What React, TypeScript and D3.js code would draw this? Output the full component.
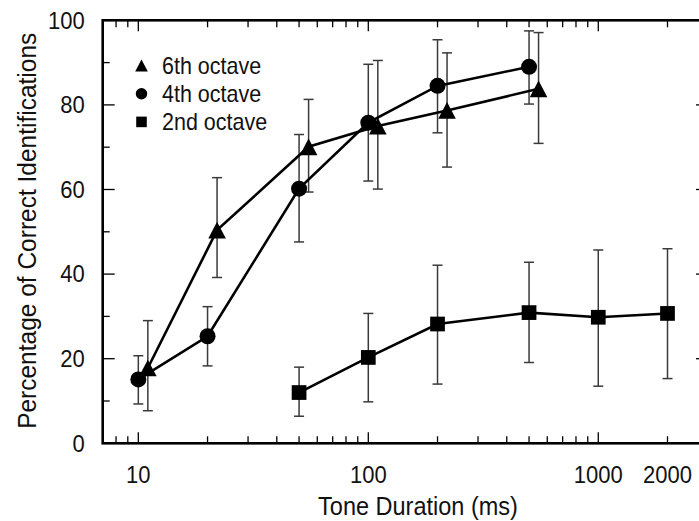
import React from "react";
import * as d3 from "d3";

const durations6 = [11, 22, 55, 110, 220, 550];
const pct6 = [17.8, 50.4, 70.1, 75.0, 78.7, 83.8];
const lo6 = [7.7, 39.2, 59.4, 60.1, 65.3, 70.9];
const hi6 = [29.0, 62.8, 81.3, 90.5, 92.3, 97.1];

const durations4 = [10, 20, 50, 100, 200, 500];
const pct4 = [15.1, 25.3, 60.2, 75.8, 84.5, 89.0];
const lo4 = [9.3, 18.3, 47.6, 62.0, 73.4, 80.2];
const hi4 = [20.7, 32.3, 73.0, 89.6, 95.4, 97.5];

const durations2 = [50, 100, 200, 500, 1000, 2000];
const pct2 = [12.0, 20.3, 28.2, 30.9, 29.8, 30.7];
const lo2 = [6.4, 9.8, 14.0, 19.1, 13.5, 15.3];
const hi2 = [18.0, 30.7, 42.1, 42.8, 45.7, 46.0];

const xTickLabels = [10, 100, 1000, 2000];
const yTickLabels = [0, 20, 40, 60, 80, 100];
const yMinorTicks = [10, 30, 50, 70, 90];
const legendLabels = ["6th octave", "4th octave", "2nd octave"];

const W = 699;
const H = 521;
const left = 102.7;
const right = 708;
const top = 20.3;
const bottom = 443.3;

const x = d3.scaleLog().domain([7, 3000]).range([left, right]);
const y = d3.scaleLinear().domain([0, 100]).range([bottom, top]);

const FONT = "'Liberation Sans', Arial, Helvetica, sans-serif";

function triPath(cx: number, cy: number, s: number) {
  const h = s * 0.95;
  return `M${cx},${cy - h / 2}L${cx + s / 2},${cy + h / 2}L${cx - s / 2},${cy + h / 2}Z`;
}

type Series = { xs: number[]; ys: number[]; lo: number[]; hi: number[]; shape: string };

const series: Series[] = [
  { xs: durations6, ys: pct6, lo: lo6, hi: hi6, shape: "tri" },
  { xs: durations4, ys: pct4, lo: lo4, hi: hi4, shape: "circ" },
  { xs: durations2, ys: pct2, lo: lo2, hi: hi2, shape: "sq" },
];

function marker(shape: string, cx: number, cy: number, size: number, key: string) {
  if (shape === "tri") return <path key={key} d={triPath(cx, cy, size * 1.1)} fill="#000" />;
  if (shape === "circ") return <circle key={key} cx={cx} cy={cy} r={size / 2} fill="#000" />;
  return <rect key={key} x={cx - size * 0.46} y={cy - size * 0.46} width={size * 0.92} height={size * 0.92} fill="#000" />;
}

function SText(props: { x: number; y: number; size: number; anchor?: string; children: React.ReactNode }) {
  // text slightly taller than wide, as in the reference
  const sy = 1.07;
  return (
    <text
      transform={`translate(${props.x},${props.y}) scale(1,${sy})`}
      fontSize={props.size}
      textAnchor={props.anchor || "start"}
      fill="#111"
    >
      {props.children}
    </text>
  );
}

export default function App() {
  const majorX: number[] = [];
  const minorX: number[] = [];
  for (const dec of [1, 10, 100, 1000]) {
    for (let m = 1; m <= 9; m++) {
      const v = dec * m;
      if (v < 7 || v > 3000) continue;
      if (m === 1) majorX.push(v);
      else minorX.push(v);
    }
  }
  const line = d3
    .line<[number, number]>()
    .x((d) => x(d[0]))
    .y((d) => y(d[1]));

  return (
    <svg width={W} height={H} style={{ position: "absolute", left: 0, top: 0, background: "#fff" }} fontFamily={FONT}>
      <rect width={W} height={H} fill="#fff" />
      {/* ticks */}
      <g stroke="#000" strokeWidth={1.3}>
        {majorX.map((v) => (
          <g key={"mx" + v}>
            <line x1={x(v)} x2={x(v)} y1={bottom} y2={bottom - 11} />
            <line x1={x(v)} x2={x(v)} y1={top} y2={top + 11} />
          </g>
        ))}
        {minorX.map((v) => (
          <g key={"nx" + v}>
            <line x1={x(v)} x2={x(v)} y1={bottom} y2={bottom - 7} />
            <line x1={x(v)} x2={x(v)} y1={top} y2={top + 7} />
          </g>
        ))}
        {yTickLabels.map((v) => (
          <g key={"my" + v}>
            <line x1={left} x2={left + 12} y1={y(v)} y2={y(v)} />
            <line x1={right} x2={right - 12} y1={y(v)} y2={y(v)} />
          </g>
        ))}
        {yMinorTicks.map((v) => (
          <g key={"ny" + v}>
            <line x1={left} x2={left + 7} y1={y(v)} y2={y(v)} />
            <line x1={right} x2={right - 7} y1={y(v)} y2={y(v)} />
          </g>
        ))}
      </g>
      {/* frame */}
      <rect x={left} y={top} width={right - left} height={bottom - top} fill="none" stroke="#000" strokeWidth={2.6} />
      {/* tick labels */}
      {xTickLabels.map((v) => (
        <SText key={"xl" + v} x={x(v)} y={483} size={22} anchor="middle">
          {v}
        </SText>
      ))}
      {yTickLabels.map((v) => (
        <SText key={"yl" + v} x={left - 18} y={y(v) + 8.3} size={22} anchor="end">
          {v}
        </SText>
      ))}
      {/* axis titles */}
      <SText x={418} y={515} size={23.5} anchor="middle">
        Tone Duration (ms)
      </SText>
      <text
        transform={`translate(36,${(top + bottom) / 2 - 1}) rotate(-90) scale(1,1.07)`}
        textAnchor="middle"
        fontSize={24.5}
        fill="#111"
      >
        Percentage of Correct Identifications
      </text>
      {/* error bars */}
      <g stroke="#3a3a3a" strokeWidth={1.5}>
        {series.map((s, si) =>
          s.xs.map((xv, i) => {
            const cx = x(xv);
            return (
              <g key={`e${si}-${i}`}>
                <line x1={cx} x2={cx} y1={y(s.lo[i])} y2={y(s.hi[i])} />
                <line x1={cx - 5} x2={cx + 5} y1={y(s.lo[i])} y2={y(s.lo[i])} />
                <line x1={cx - 5} x2={cx + 5} y1={y(s.hi[i])} y2={y(s.hi[i])} />
              </g>
            );
          })
        )}
      </g>
      {/* lines */}
      {series.map((s, si) => (
        <path
          key={"l" + si}
          d={line(s.xs.map((xv, i) => [xv, s.ys[i]] as [number, number])) || ""}
          fill="none"
          stroke="#000"
          strokeWidth={2.6}
        />
      ))}
      {/* markers */}
      {series.map((s, si) =>
        s.xs.map((xv, i) => marker(s.shape, x(xv), y(s.ys[i]), 16, `m${si}-${i}`))
      )}
      {/* legend */}
      {legendLabels.map((lab, i) => {
        const ly = 65.5 + i * 28.2;
        return (
          <g key={"lg" + i}>
            {marker(series[i].shape, 141.5, ly, 11.5, "lm" + i)}
            <SText x={162} y={ly + 8} size={21.5}>
              {lab}
            </SText>
          </g>
        );
      })}
    </svg>
  );
}
